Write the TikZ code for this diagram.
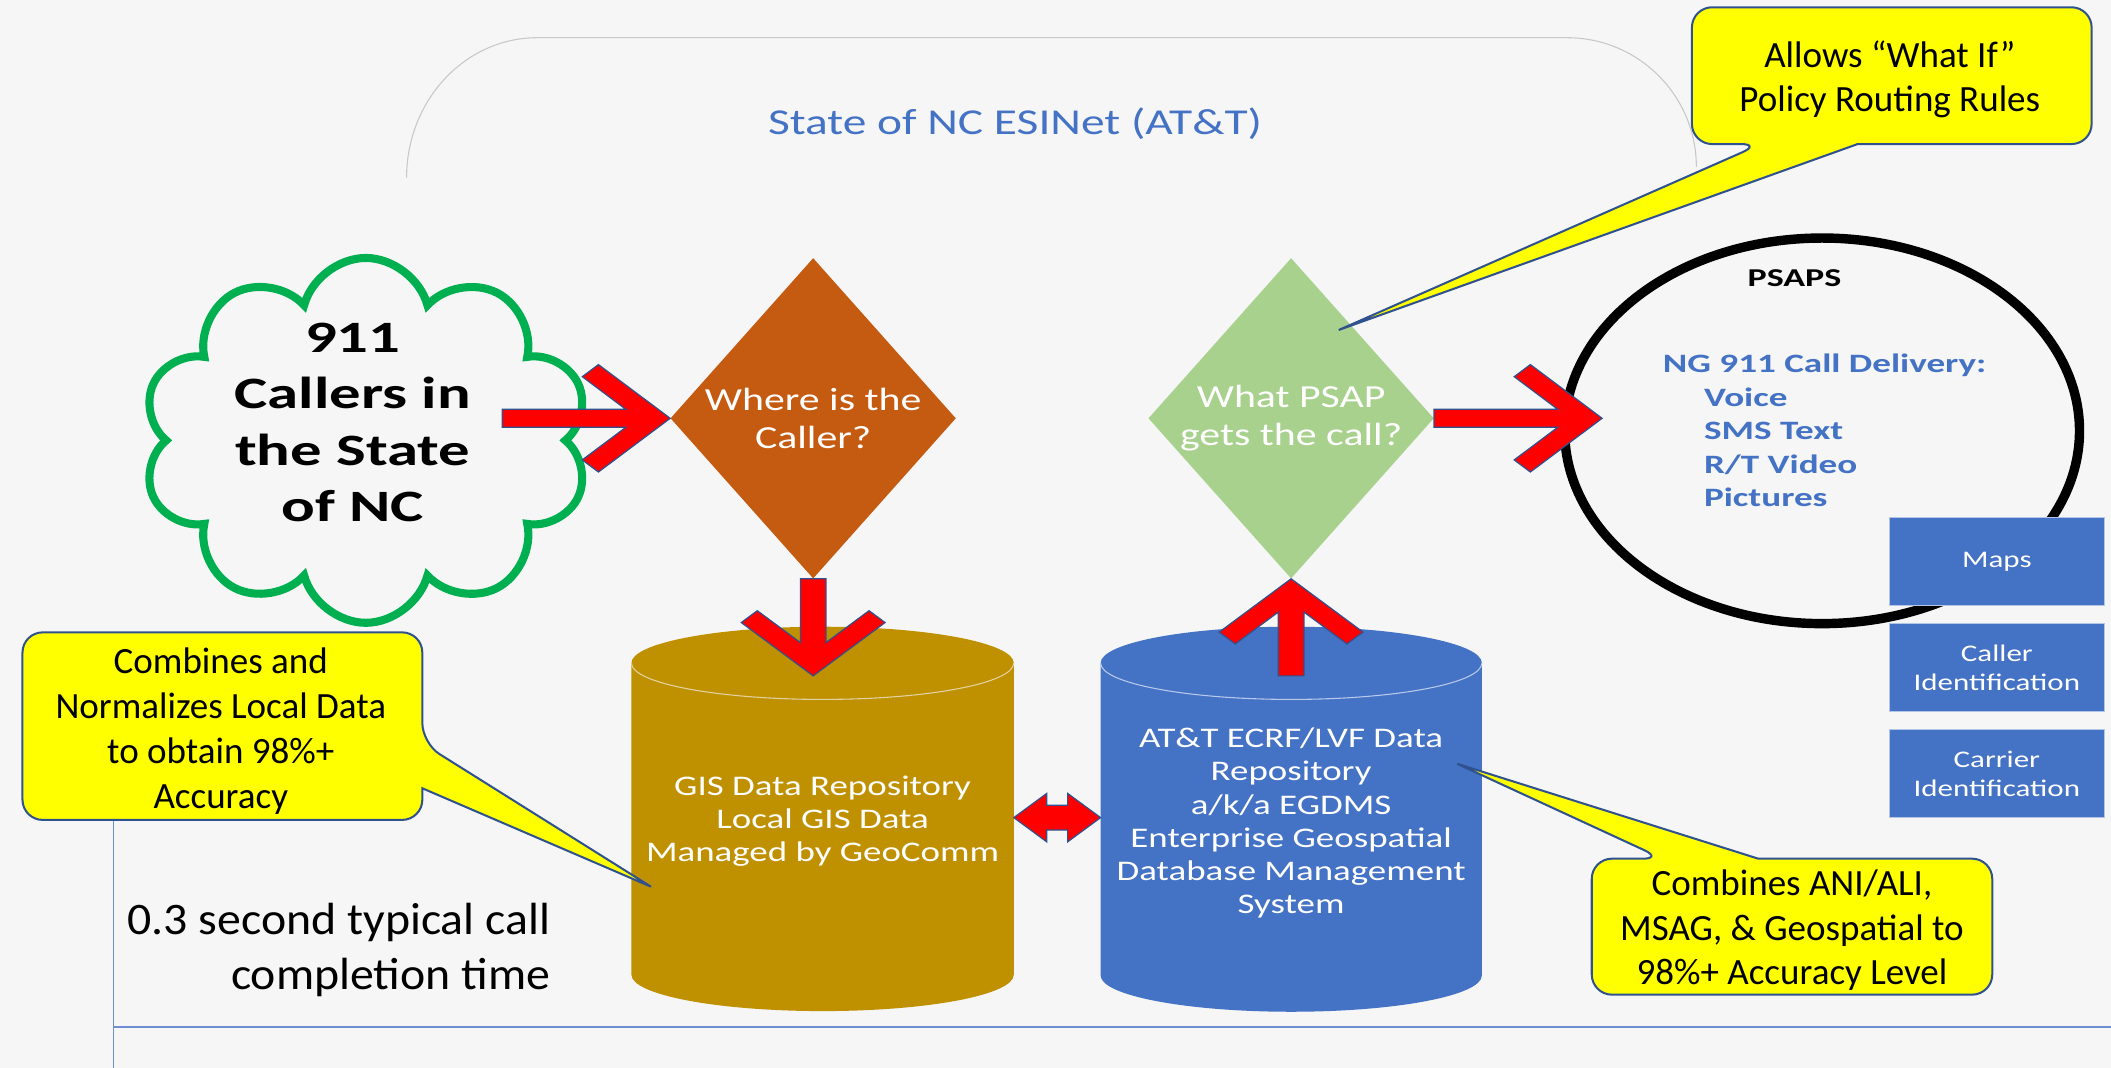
\documentclass[tikz,border=0pt]{standalone}
\usepackage{fontspec}
\setmainfont{Carlito}
\newfontfamily\wide[FakeStretch=1.3]{Carlito}
\newfontfamily\wider[FakeStretch=1.4]{Carlito}
\newfontfamily\timefont[FakeStretch=1.06]{Carlito}
\usetikzlibrary{shapes.geometric, shapes.symbols, calc}

\definecolor{bg}{HTML}{F6F6F6}
\definecolor{framegray}{HTML}{C8C8C8}
\definecolor{attblue}{HTML}{4472C4}
\definecolor{gisgold}{HTML}{BF9000}
\definecolor{gisrim}{HTML}{E2D2A0}
\definecolor{attrim}{HTML}{B8C9EA}
\definecolor{whereorange}{HTML}{C55A11}
\definecolor{whatgreen}{HTML}{A9D18E}
\definecolor{cloudgreen}{HTML}{00B050}
\definecolor{calloutyellow}{HTML}{FFFF00}
\definecolor{outlineblue}{HTML}{2F528F}
\definecolor{boxedge}{HTML}{B4C6E7}
\definecolor{linkblue}{HTML}{6E8FD3}

% tail, tip, shaft half width, join, inner back, inner side, outer back, outer side
\newcommand\redarrow[8]{%
  \filldraw[fatarrow]
    ($(#1)!#3!90:(#2)$) -- ($($(#2)!#4!(#1)$)!#3!90:(#2)$) --
    ($($(#2)!#5!(#1)$)!#6!90:(#2)$) -- ($($(#2)!#7!(#1)$)!#8!90:(#2)$) --
    (#2) --
    ($($(#2)!#7!(#1)$)!#8!-90:(#2)$) -- ($($(#2)!#5!(#1)$)!#6!-90:(#2)$) --
    ($($(#2)!#4!(#1)$)!#3!-90:(#2)$) -- ($(#1)!#3!-90:(#2)$) -- cycle;}
\newcommand\longarrow[2]{\redarrow{#1}{#2}{6.7pt}{33pt}{65.3pt}{30.9pt}{53.3pt}{39.9pt}}
\newcommand\shortarrow[2]{\redarrow{#1}{#2}{9.5pt}{24.7pt}{48.4pt}{41.5pt}{39.6pt}{53.4pt}}
\newcommand\dblarrow[2]{%
  \filldraw[fatarrow]
    (#1) -- ($($(#1)!24.5pt!(#2)$)!18pt!90:(#2)$) -- ($($(#1)!24.5pt!(#2)$)!9.2pt!90:(#2)$) --
    ($($(#2)!24.5pt!(#1)$)!9.2pt!-90:(#1)$) -- ($($(#2)!24.5pt!(#1)$)!18pt!-90:(#1)$) --
    (#2) --
    ($($(#2)!24.5pt!(#1)$)!18pt!90:(#1)$) -- ($($(#2)!24.5pt!(#1)$)!9.2pt!90:(#1)$) --
    ($($(#1)!24.5pt!(#2)$)!9.2pt!-90:(#2)$) -- ($($(#1)!24.5pt!(#2)$)!18pt!-90:(#2)$) -- cycle;}

\begin{document}
\begin{tikzpicture}[x=1pt, y=-1pt]
\tikzstyle{decision} = [diamond, inner sep=0, aspect=0.9, minimum width=212, minimum height=238, text=white, align=center, font=\wide\fontsize{23.9}{28}\selectfont]
\tikzstyle{infobox} = [rectangle, fill=attblue, draw=boxedge, line width=0.8, minimum width=159.6, minimum height=65, text=white, align=center, font=\wide\fontsize{17.7}{21.5}\selectfont]
\tikzstyle{repo text} = [text=white, align=center, font=\wide\fontsize{21.1}{24.7}\selectfont]
\tikzstyle{callout} = [fill=calloutyellow, draw=outlineblue, line width=1.5]
\tikzstyle{callout text} = [align=center, font=\fontsize{27.5}{33}\selectfont]
\tikzstyle{fatarrow} = [fill=red, draw=outlineblue, line width=0.9]

\fill[bg] (0,0) rectangle (1568,793);
\useasboundingbox (0,0) rectangle (1568,793);

\draw[framegray, line width=0.8] (302,132) .. controls (302,74.6) and (345.4,28) .. (399,28) -- (1164,28) .. controls (1217,28) and (1260,71) .. (1260,124);
\node[text=attblue, font=\wide\fontsize{27.1}{32}\selectfont] (esinet) at (754,92) {State of NC ESINet (AT\&T)};

\draw[linkblue, line width=1.2] (84.4,609) -- (84.4,793);
\draw[linkblue, line width=1.2] (84.4,762.6) -- (1568,762.6);

\node[cloud, cloud puffs=10, cloud puff arc=150, aspect=1.2, draw=cloudgreen, fill=bg, line width=6, minimum width=332, minimum height=271, inner sep=0] (callers) at (271.7,327.1) {};
\node[align=center, font=\wider\bfseries\fontsize{33.3}{42}\selectfont] (callerstext) at (262,313.9) {911\\Callers in\\the State\\of NC};

\node[decision, fill=whereorange] (where) at (604,310.7) {Where is the\\Caller?};
\node[decision, fill=whatgreen] (what) at (959,310.7) {What PSAP\\gets the call?};

\fill[gisgold] (469,492.5) -- (469,724) arc[start angle=180, end angle=360, x radius=142pt, y radius=27pt] -- (753,492.5) arc[start angle=0, end angle=180, x radius=142pt, y radius=27pt] -- cycle;
\draw[gisrim, line width=0.8] (469,492.5) arc[start angle=180, end angle=360, x radius=142pt, y radius=27pt];
\node[repo text] (gis) at (611,610) {GIS Data Repository\\Local GIS Data\\Managed by GeoComm};

\fill[attblue] (817.5,492.5) -- (817.5,724.5) arc[start angle=180, end angle=360, x radius=141.6pt, y radius=27pt] -- (1100.7,492.5) arc[start angle=0, end angle=180, x radius=141.6pt, y radius=27pt] -- cycle;
\draw[attrim, line width=0.8] (817.5,492.5) arc[start angle=180, end angle=360, x radius=141.6pt, y radius=27pt];
\node[repo text] (ecrf) at (959,611.5) {AT\&T ECRF/LVF Data\\Repository\\a/k/a EGDMS\\Enterprise Geospatial\\Database Management\\System};

\node[ellipse, draw=black, line width=7, minimum width=382.4, minimum height=286.4, inner sep=0] (psaps) at (1353.4,320) {};
\node[font=\wider\bfseries\fontsize{19.1}{23}\selectfont] (psapstitle) at (1332.9,206.3) {PSAPS};
\node[anchor=north west, inner sep=0, align=left, text=attblue, font=\wider\bfseries\fontsize{19.7}{24.77}\selectfont] (delivery) at (1235,263) {NG 911 Call Delivery:\\\hspace*{30.5pt}Voice\\\hspace*{30.5pt}SMS Text\\\hspace*{30.5pt}R/T Video\\\hspace*{30.5pt}Pictures};

\node[infobox] (maps) at (1483.2,416.9) {Maps};
\node[infobox] (callerid) at (1483.2,495.7) {Caller\\Identification};
\node[infobox] (carrierid) at (1483.2,574.6) {Carrier\\Identification};

\coordinate (callersout) at (373,310.7);
\coordinate (gistop) at (604,502);
\coordinate (ecrftop) at (959,502);
\coordinate (psapsin) at (1190,310.7);
\coordinate (gisside) at (753,607.3);
\coordinate (ecrfside) at (817.5,607.3);

\longarrow{callersout}{where.west}
\shortarrow{where.south}{gistop}
\shortarrow{ecrftop}{what.south}
\longarrow{what.east}{psapsin}
\dblarrow{gisside}{ecrfside}

\path[callout] (1379.8,107) [rounded corners=15] -- (1553.6,107) -- (1553.6,5.4) -- (1256.7,5.4) -- (1256.7,107) -- (1308,107) [sharp corners] -- (994.4,245.1) -- cycle;
\node[callout text] (whatif) at (1403.7,58.8) {Allows “What If”\\Policy Routing Rules};

\path[callout] (313.7,585.5) [rounded corners=15] -- (313.7,609) -- (16.7,609) -- (16.7,469.7) -- (313.7,469.7) -- (313.7,552.1) [sharp corners] -- (483.5,658.6) -- cycle;
\node[callout text, font=\fontsize{27.5}{33.4}\selectfont] (normalize) at (164,542.8) {Combines and\\Normalizes Local Data\\to obtain 98\%+\\Accuracy};

\path[callout] (1306,637.8) [rounded corners=15] -- (1479.8,637.8) -- (1479.8,738.8) -- (1182.3,738.8) -- (1182.3,637.8) -- (1235,637.8) [sharp corners] -- (1082.3,567.3) -- cycle;
\node[callout text] (accuracy) at (1331,691) {Combines ANI/ALI,\\MSAG, \& Geospatial to\\98\%+ Accuracy Level};

\node[anchor=east, inner sep=0, align=right, font=\timefont\fontsize{33.5}{41.5}\selectfont] (calltime) at (409,705.6) {0.3 second typical call\\completion time};
\end{tikzpicture}
\end{document}
